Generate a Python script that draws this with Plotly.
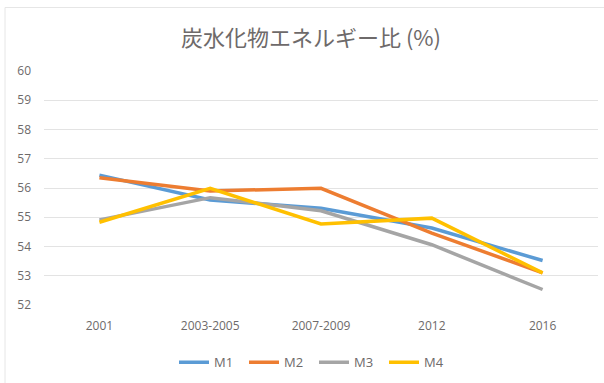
import plotly.graph_objects as go

# Carbohydrate energy ratio (%) by survey period
periods = ["2001", "2003-2005", "2007-2009", "2012", "2016"]
m1 = [56.44, 55.59, 55.31, 54.63, 53.52]
m2 = [56.35, 55.90, 55.99, 54.46, 53.10]
m3 = [54.91, 55.67, 55.22, 54.06, 52.53]
m4 = [54.83, 55.99, 54.77, 54.97, 53.10]
series_names = ["M1", "M2", "M3", "M4"]
y_ticks = [52, 53, 54, 55, 56, 57, 58, 59, 60]

colors = ["#5B9BD5", "#ED7D31", "#A5A5A5", "#FFC000"]
text_color = "#6e6a6a"
font_family = "Open Sans, Liberation Sans, sans-serif"

fig = go.Figure()
for name, vals, col in zip(series_names, [m1, m2, m3, m4], colors):
    fig.add_trace(go.Scatter(
        x=periods, y=vals, name=name, mode="lines",
        line=dict(color=col, width=3.5),
    ))

fig.update_layout(
    width=604, height=383,
    margin=dict(l=44, r=6, t=71, b=76),
    paper_bgcolor="white", plot_bgcolor="white",
    font=dict(family=font_family, color=text_color, size=12),
    title=dict(
        text="炭水化物エネルギー比 (%)",
        x=311 / 604, xanchor="center", y=1 - 38 / 383, yanchor="middle",
        font=dict(family="Noto Sans CJK JP, sans-serif", size=22, color=text_color),
    ),
    xaxis=dict(
        type="category", range=[-0.5, len(periods) - 0.5],
        showgrid=False, showline=False, zeroline=False,
        ticks="", ticklabelstandoff=12,
        tickfont=dict(size=12, color=text_color),
    ),
    yaxis=dict(
        range=[52, 60], tickvals=y_ticks, showgrid=True,
        gridcolor="#e3e3e3", gridwidth=1, zeroline=False, showline=False,
        ticks="", ticklabelstandoff=12,
        tickfont=dict(size=12, color=text_color),
    ),
    legend=dict(
        orientation="h", x=(314 - 44) / 554, xanchor="center",
        y=-0.245, yanchor="middle",
        font=dict(size=13, color=text_color), itemwidth=30,
        entrywidth=25, entrywidthmode="pixels",
    ),
    shapes=[dict(
        type="rect", xref="paper", yref="paper",
        x0=-39 / 554, x1=1.2, y0=-0.5, y1=1 + 64 / 236,
        line=dict(color="#e6e6e6", width=1), layer="below",
    )],
)

fig.write_html("out.html")
